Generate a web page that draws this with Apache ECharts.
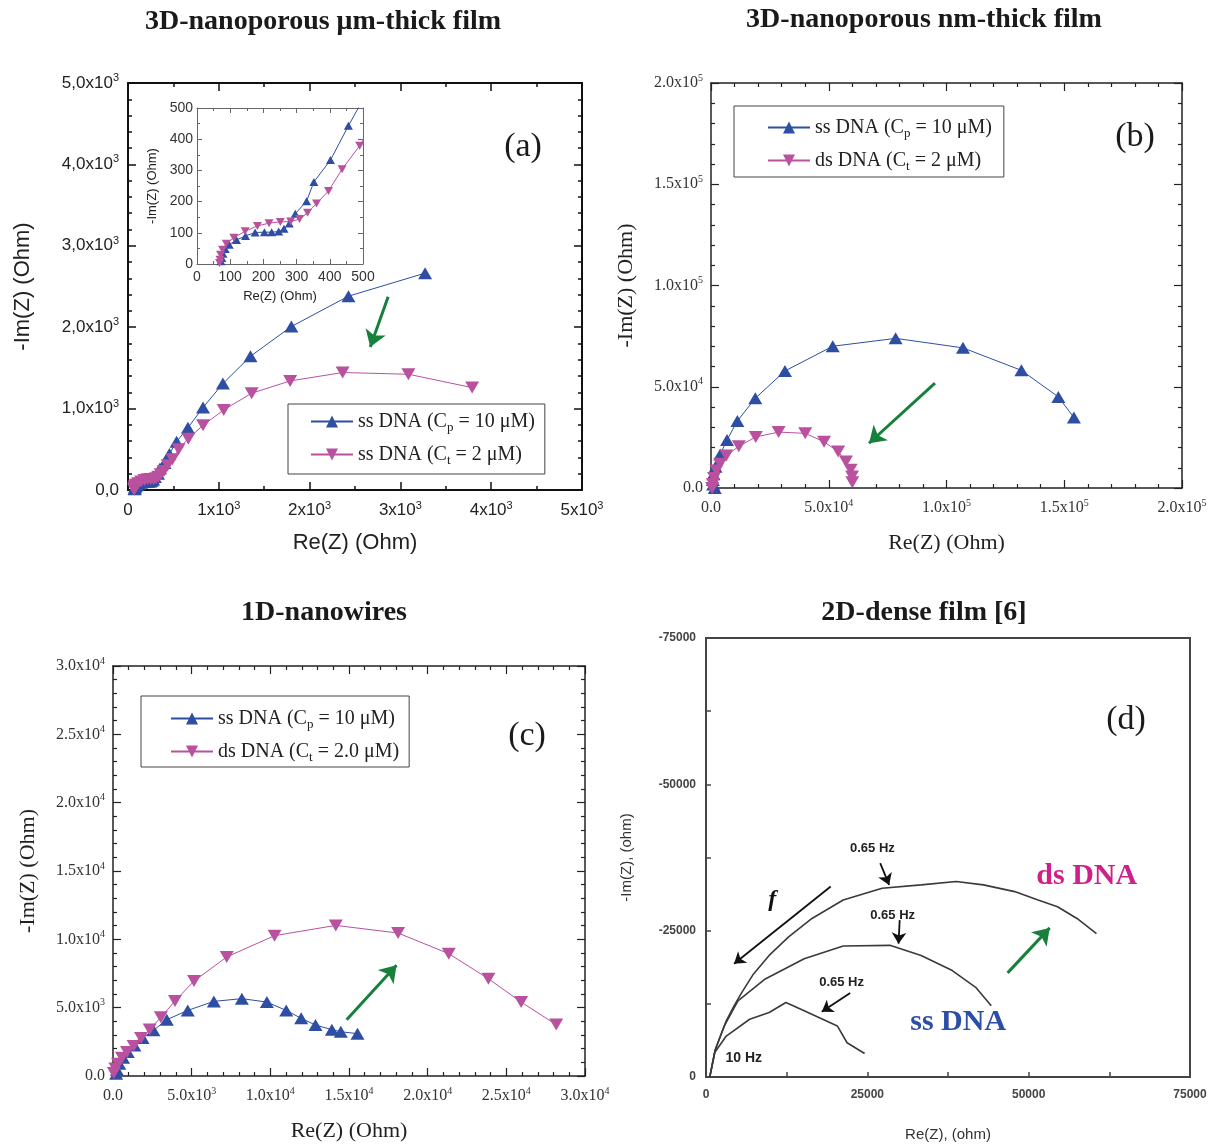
<!DOCTYPE html>
<html><head><meta charset="utf-8">
<script src="https://cdn.jsdelivr.net/npm/echarts@6/dist/echarts.min.js"></script>
<style>html,body{margin:0;padding:0;background:#fff}#c{width:1219px;height:1148px}</style>
</head><body><div id="c"></div>
<script>
// ---------- DATA ----------
// (a) 3D-nanoporous um-thick film (main + inset share data)
const aSsRe = [72,75,78,85,97,119,146,175,203,225,246,262,278,296,330,352,402,456,535,660,826,1045,1349,1799,2428,3272];
const aSsIm = [9,19,33,48,62,77,90,101,102,102,104,113,130,161,201,263,333,443,594,766,1012,1307,1643,2008,2381,2664];
const aDsRe = [68,69,71,77,88,111,145,182,217,251,282,309,333,360,396,437,490,557,664,827,1054,1362,1786,2364,3088,3790];
const aDsIm = [3,14,30,46,65,84,105,122,131,135,136,144,164,194,234,304,379,500,631,795,984,1189,1340,1443,1422,1258];
const aXTickLabels = ['0','1x10^3','2x10^3','3x10^3','4x10^3','5x10^3'];
const aYTickLabels = ['0,0','1,0x10^3','2,0x10^3','3,0x10^3','4,0x10^3','5,0x10^3'];
const insetTickLabels = ['0','100','200','300','400','500'];
const aArrow = [[2865,2373],[2668,1758]];

// (b) 3D-nanoporous nm-thick film
const bSsRe = [1600,900,800,1050,1900,3900,6800,11200,18800,31400,51700,78400,107000,131800,147500,154100];
const bSsIm = [0,1700,4000,6800,10500,16600,23700,33100,44300,57800,70000,73900,69200,58100,45000,34800];
const bDsRe = [500,800,1300,2300,3900,6500,11800,19000,28700,40000,48000,54000,57300,59300,59900,60000];
const bDsIm = [0,2000,5000,8600,12000,16000,20600,25200,27600,27000,22800,18000,13100,9000,5700,2800];
const bTickLabels = ['0.0','5.0x10^4','1.0x10^5','1.5x10^5','2.0x10^5'];
const bArrow = [[95100,51800],[67100,22100]];

// (c) 1D-nanowires
const cSsRe = [200,250,400,640,940,1360,1880,2570,3420,4750,6410,8190,9780,11010,11960,12870,13910,14480,15540];
const cSsIm = [170,460,900,1340,1760,2240,2780,3340,4120,4800,5460,5660,5410,4800,4220,3730,3390,3240,3100];
const cDsRe = [50,150,320,570,890,1310,1780,2330,3040,3940,5150,7230,10270,14160,18120,21340,23860,25940,28170];
const cDsIm = [220,540,900,1340,1760,2200,2780,3410,4290,5490,6950,8710,10270,11020,10460,8950,7120,5410,3760];
const cTickLabels = ['0.0','5.0x10^3','1.0x10^4','1.5x10^4','2.0x10^4','2.5x10^4','3.0x10^4'];
const cArrow = [[14850,4120],[18020,8100]];

// (d) 2D-dense film [6]  (Im(Z) negative)
const dDsRe = [604,1027,1449,2234,3140,4348,5556,7367,9783,12802,16425,21256,27295,33333,38768,42995,47826,51449,54469,57488,60507];
const dDsIm = [-115,-2410,-4705,-7000,-9582,-12164,-14460,-17615,-20771,-23927,-27083,-30239,-32247,-32821,-33395,-32821,-31673,-30239,-29091,-27083,-24501];
const dSsRe = [604,1449,2838,4952,9179,15217,21256,28502,33333,38164,41787,44203];
const dSsIm = [-115,-4705,-8722,-13025,-16754,-20197,-22378,-22493,-20771,-18189,-15320,-12164];
const dBareRe = [604,1329,3140,6763,9783,12379,15217,20350,21860,24577];
const dBareIm = [-115,-4131,-7000,-9869,-11017,-12738,-11303,-8722,-5853,-4017];
const dXTickLabels = ['0','25000','50000','75000'];
const dYTickLabels = ['0','-25000','-50000','-75000'];
const dGreenArrow = [[46739,-17787],[53261,-25476]];
const dFArrow = [[19324,-32534],[4348,-19336]];
const dHzArrows = [[[26993,-36550],[28382,-32821]],[[30012,-26795],[29831,-22779]],[[22343,-14345],[17935,-11131]]];
const dNotes = [
  ['0.65 Hz',25785,-39131],['0.65 Hz',28925,-27657],['0.65 Hz',21014,-16181],
  ['10 Hz',5857,-3271],['f',10266,-30239],['ds DNA',59000,-34256],['ss DNA',39070,-9295]
];

const titles = ['3D-nanoporous \u03bcm-thick film','3D-nanoporous nm-thick film','1D-nanowires','2D-dense film [6]'];
const legendText = {
  a_ss:'ss DNA (C{sub|p} = 10 \u03bcM)', a_ds:'ss DNA (C{sub|t} = 2 \u03bcM)',
  b_ss:'ss DNA (C{sub|p} = 10 \u03bcM)', b_ds:'ds DNA (C{sub|t} = 2 \u03bcM)',
  c_ss:'ss DNA (C{sub|p} = 10 \u03bcM)', c_ds:'ds DNA (C{sub|t} = 2.0 \u03bcM)'
};

// ---------- STYLE / BUILD ----------
const FS = 'Liberation Serif, Times New Roman, serif';
const FSANS = 'Liberation Sans, Arial, sans-serif';
const BLUE = '#2e4ea3', PINK = '#b9519f', GREEN = '#17803a';
const zip = (a,b) => a.map((v,i)=>[v,b[i]]);
function richLabel(s){ const i=s.indexOf('^'); return i<0 ? '{n|'+s+'}' : '{n|'+s.slice(0,i)+'}{s|'+s.slice(i+1)+'}'; }

function mkAxes(dim, gi, c){
  const base = {
    type:'value', gridIndex:gi, min:c.min, max:c.max, interval:c.interval,
    axisLine:{show:true, onZero:false, lineStyle:{color:c.color, width:c.lw}},
    axisTick:{show:true, inside:true, length:c.tl, lineStyle:{color:c.color, width:c.tw}},
    minorTick:{show:c.minor>1, splitNumber:c.minor, length:c.mtl, lineStyle:{color:c.color, width:c.tw}},
    splitLine:{show:false}, minorSplitLine:{show:false}
  };
  const sfs = Math.round(c.fs*0.62);
  const main = Object.assign({}, base, {
    position: dim==='x'?'bottom':'left',
    axisLabel:{show:true, margin:c.margin, color:c.labelColor,
      formatter: v => { const k=Math.round((v-c.min)/c.interval); return c.labels[k]!==undefined ? richLabel(c.labels[k]) : ''; },
      rich:{n:{fontFamily:c.font, fontSize:c.fs, lineHeight:c.fs+4, color:c.labelColor},
            s:{fontFamily:c.font, fontSize:sfs, lineHeight:sfs, verticalAlign:'top', color:c.labelColor}}},
    name:c.name, nameLocation:'middle', nameGap:c.nameGap,
    nameTextStyle:{fontFamily:c.nameFont, fontSize:c.nameFs, color:'#222'}
  });
  const mirror = Object.assign({}, base, {position: dim==='x'?'top':'right', axisLabel:{show:false}, name:''});
  return [main, mirror];
}

const commonA = {color:'#111', lw:2, tw:1.5, tl:8, mtl:4, font:FSANS, fs:17, labelColor:'#222', nameFont:FSANS, nameFs:22};
const commonI = {color:'#666', lw:1, tw:1, tl:5, mtl:3, font:FSANS, fs:14, labelColor:'#333', nameFont:FSANS, nameFs:13};
const commonB = {color:'#222', lw:1.5, tw:1.2, tl:8, mtl:4, font:FS, fs:16, labelColor:'#333', nameFont:FS, nameFs:22};

const xAxes = [].concat(
  mkAxes('x',0,Object.assign({},commonA,{min:0,max:5000,interval:1000,minor:2,labels:aXTickLabels,margin:10,name:'Re(Z) (Ohm)',nameGap:42})),
  mkAxes('x',1,Object.assign({},commonI,{min:0,max:500,interval:100,minor:2,labels:insetTickLabels,margin:4,name:'Re(Z) (Ohm)',nameGap:26})),
  mkAxes('x',2,Object.assign({},commonB,{min:0,max:200000,interval:50000,minor:5,labels:bTickLabels,margin:10,name:'Re(Z) (Ohm)',nameGap:44})),
  mkAxes('x',3,Object.assign({},commonB,{min:0,max:30000,interval:5000,minor:5,labels:cTickLabels,margin:10,name:'Re(Z) (Ohm)',nameGap:44}))
);
const yAxes = [].concat(
  mkAxes('y',0,Object.assign({},commonA,{min:0,max:5000,interval:1000,minor:5,labels:aYTickLabels,margin:9,name:'-Im(Z) (Ohm)',nameGap:94})),
  mkAxes('y',1,Object.assign({},commonI,{min:0,max:500,interval:100,minor:2,labels:insetTickLabels,margin:4,name:'-Im(Z) (Ohm)',nameGap:38})),
  mkAxes('y',2,Object.assign({},commonB,{min:0,max:200000,interval:50000,minor:5,labels:bTickLabels,margin:8,name:'-Im(Z) (Ohm)',nameGap:74})),
  mkAxes('y',3,Object.assign({},commonB,{min:0,max:30000,interval:5000,minor:5,labels:cTickLabels,margin:8,name:'-Im(Z) (Ohm)',nameGap:74}))
);
// (d) axes
const dLabelStyle = {fontFamily:FSANS, fontWeight:'bold', fontSize:12, color:'#444'};
xAxes.push({type:'value', gridIndex:4, min:0, max:75000, interval:12500, position:'bottom',
  axisLine:{show:true, onZero:false, lineStyle:{color:'#444', width:2}},
  axisTick:{show:true, inside:true, length:5, lineStyle:{color:'#444', width:1.5}},
  splitLine:{show:false},
  axisLabel:Object.assign({margin:12, formatter: v => v%25000===0 ? dXTickLabels[Math.round(v/25000)] : ''}, dLabelStyle),
  name:'Re(Z), (ohm)', nameLocation:'middle', nameGap:50, nameTextStyle:{fontFamily:FSANS, fontSize:15, color:'#333'}});
yAxes.push({type:'value', gridIndex:4, min:-75000, max:0, interval:12500, inverse:true, position:'left',
  axisLine:{show:true, onZero:false, lineStyle:{color:'#444', width:2}},
  axisTick:{show:true, inside:true, length:5, lineStyle:{color:'#444', width:1.5}},
  splitLine:{show:false},
  axisLabel:Object.assign({margin:10, formatter: v => v%25000===0 ? dYTickLabels[Math.round(-v/25000)] : ''}, dLabelStyle),
  name:'-Im(Z), (ohm)', nameLocation:'middle', nameGap:72, nameTextStyle:{fontFamily:FSANS, fontSize:15, color:'#333'}});

function arrowLine(pairs, color, width, size){
  return {silent:true, symbol:['none','arrow'], symbolSize:size, animation:false,
    label:{show:false}, emphasis:{disabled:true},
    lineStyle:{color:color, width:width, type:'solid', opacity:1},
    data: pairs.map(p => [{coord:p[0]},{coord:p[1]}])};
}
function dataSeries(name, xi, re, im, color, down, size, extra){
  return Object.assign({name:name, type:'line', xAxisIndex:xi, yAxisIndex:xi, data:zip(re,im),
    symbol:'triangle', symbolSize:size, symbolRotate: down?180:0, showAllSymbol:true,
    itemStyle:{color:color}, lineStyle:{color:color, width:1}, animation:false, z:3,
    emphasis:{disabled:true}}, extra||{});
}

const series = [
  dataSeries('a_ss',0,aSsRe,aSsIm,BLUE,false,[14,12],{markLine:arrowLine([aArrow],GREEN,3,16)}),
  dataSeries('a_ds',0,aDsRe,aDsIm,PINK,true,[14,12]),
  dataSeries('a_ss_in',2,aSsRe,aSsIm,BLUE,false,[9,8]),
  dataSeries('a_ds_in',2,aDsRe,aDsIm,PINK,true,[9,8]),
  dataSeries('b_ss',4,bSsRe,bSsIm,BLUE,false,[14,12],{markLine:arrowLine([bArrow],GREEN,3,16)}),
  dataSeries('b_ds',4,bDsRe,bDsIm,PINK,true,[14,12]),
  dataSeries('c_ss',6,cSsRe,cSsIm,BLUE,false,[14,12],{markLine:arrowLine([cArrow],GREEN,3,16)}),
  dataSeries('c_ds',6,cDsRe,cDsIm,PINK,true,[14,12])
];
const dLine = (name, re, im, extra) => Object.assign({name:name, type:'line', xAxisIndex:8, yAxisIndex:8, data:zip(re,im),
  symbol:'none', lineStyle:{color:'#3a3a3a', width:1.6}, animation:false, emphasis:{disabled:true}}, extra||{});
series.push(dLine('d_ds', dDsRe, dDsIm, {markLine:arrowLine([dGreenArrow],GREEN,3,16)}));
series.push(dLine('d_ss', dSsRe, dSsIm, {markLine:arrowLine([dFArrow].concat(dHzArrows),'#111',1.8,11)}));
series.push(dLine('d_bare', dBareRe, dBareIm));
const noteStyle = [
  {fontFamily:FSANS, fontWeight:'bold', fontSize:13, color:'#222'},
  {fontFamily:FSANS, fontWeight:'bold', fontSize:13, color:'#222'},
  {fontFamily:FSANS, fontWeight:'bold', fontSize:13, color:'#222'},
  {fontFamily:FSANS, fontWeight:'bold', fontSize:14, color:'#222'},
  {fontFamily:FS, fontStyle:'italic', fontWeight:'bold', fontSize:24, color:'#111'},
  {fontFamily:FS, fontWeight:'bold', fontSize:30, color:'#cf1f8b'},
  {fontFamily:FS, fontWeight:'bold', fontSize:30, color:'#2b4ea8'}
];
series.push({name:'d_notes', type:'scatter', xAxisIndex:8, yAxisIndex:8, symbolSize:0, animation:false, silent:true,
  itemStyle:{opacity:1},
  data: dNotes.map((n,i)=>({name:n[0], value:[n[1],n[2]],
    label:Object.assign({show:true, position:'inside', formatter:n[0], textBorderWidth:0, textBorderColor:'transparent', opacity:1}, noteStyle[i])}))});

function mkLegend(names, left, top, pad){
  return {data:names, left:left, top:top, orient:'vertical', selectedMode:false,
    itemWidth:42, itemHeight:15, itemGap:8, padding:pad,
    borderColor:'#444', borderWidth:1, backgroundColor:'#fff',
    formatter: n => legendText[n],
    textStyle:{fontFamily:FS, fontSize:20, color:'#222', lineHeight:25,
      rich:{sub:{fontFamily:FS, fontSize:13, lineHeight:13, verticalAlign:'bottom', color:'#222'}}}};
}

const panelLabels = [['(a)',523,147],['(b)',1135,137],['(c)',527,736],['(d)',1126,720]];
const titlePos = [[323,22],[924,20],[324,613],[924,613]];
const graphics = [];
titles.forEach((t,i)=>graphics.push({type:'text', x:titlePos[i][0], y:titlePos[i][1], silent:true,
  style:{text:t, fontFamily:FS, fontWeight:'bold', fontSize:28, fill:'#1a1a1a', align:'center', verticalAlign:'middle'}}));
panelLabels.forEach(p=>graphics.push({type:'text', x:p[1], y:p[2], silent:true,
  style:{text:p[0], fontFamily:FS, fontSize:34, fill:'#1a1a1a', align:'center', verticalAlign:'middle'}}));

const chart = echarts.init(document.getElementById('c'), null, {renderer:'canvas'});
chart.setOption({
  backgroundColor:'#fff',
  animation:false,
  grid:[
    {left:128, top:83, width:454, height:407},
    {left:197, top:108, width:166, height:156, show:true, backgroundColor:'#fff', borderWidth:0},
    {left:711, top:83, width:471, height:405},
    {left:113, top:666, width:472, height:410},
    {left:706, top:638, width:484, height:439, show:true, borderColor:'#444', borderWidth:2}
  ],
  xAxis:xAxes, yAxis:yAxes,
  legend:[
    mkLegend(['a_ss','a_ds'],288,404,[5,10,7,22]),
    mkLegend(['b_ss','b_ds'],734,106,[9,12,4,33]),
    mkLegend(['c_ss','c_ds'],141,696,[10,10,3,29])
  ],
  graphic:graphics,
  series:series
});
</script></body></html>
